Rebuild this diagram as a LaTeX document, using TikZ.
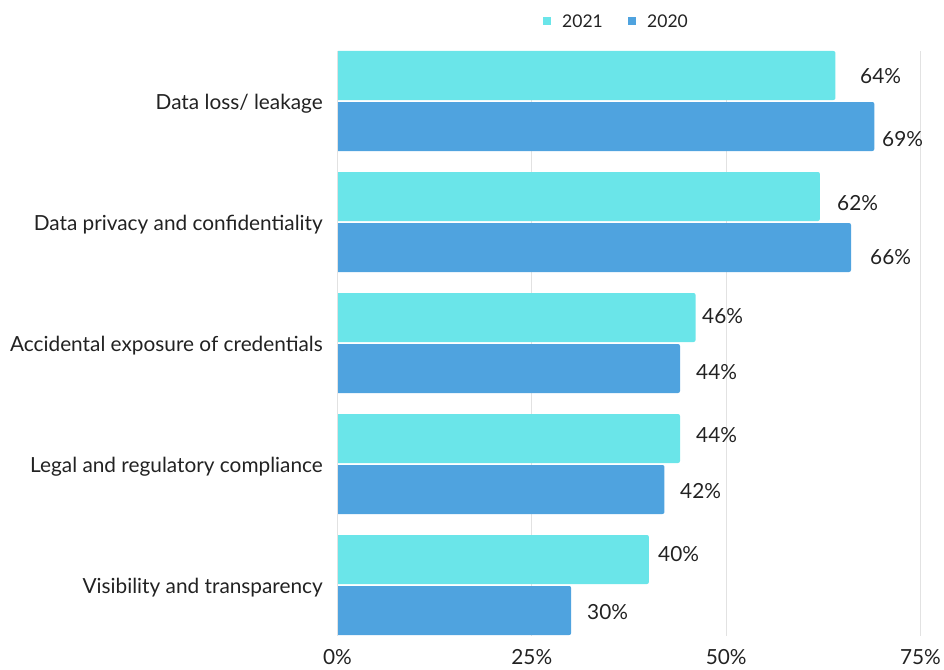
\documentclass[tikz,border=0pt]{standalone}
\usepackage{fontspec}
\setmainfont{Lato}
\definecolor{bartwentyone}{HTML}{6AE5E9}
\definecolor{bartwenty}{HTML}{4FA3DF}
\definecolor{gridgray}{HTML}{E2E2E2}
\definecolor{txtgray}{HTML}{222222}
\tikzset{
    lbl/.style={font=\fontsize{20.8}{24}\selectfont, text=txtgray, inner sep=0pt},
    catlbl/.style={lbl, anchor=base east},
    vallbl/.style={lbl, anchor=base west},
    axlbl/.style={lbl, anchor=base},
    keylbl/.style={lbl, font=\fontsize{17.5}{20}\selectfont, anchor=base west},
    gridln/.style={draw=gridgray, line width=1.2pt},
    keybox/.style={inner sep=0pt, minimum size=8pt},
}
\begin{document}
\begin{tikzpicture}[x=1pt,y=-1pt]
    \useasboundingbox (0,0) rectangle (944,669);
    % grid lines and axis labels
    \foreach \p in {0,25,50,75}
    {
        \pgfmathsetmacro{\gx}{337.5+7.773*\p}
        \coordinate (g\p t) at (\gx,51);
        \coordinate (g\p b) at (\gx,636);
        \draw[gridln] (g\p t) -- (g\p b);
        \node[axlbl] (ax\p) at (\gx,664) {\p\%};
    }
    % bars
    \foreach \i/\cat/\a/\b/\ax/\ay/\bx/\by in {
        1/{Data loss/ leakage}/64/69/860/76/882/139,
        2/{Data privacy and confidentiality}/62/66/837/203/870/257,
        3/{Accidental exposure of credentials}/46/44/702/316/696/372,
        4/{Legal and regulatory compliance}/44/42/696/435/680/491,
        5/{Visibility and transparency}/40/30/658/554/587/612}
    {
        \pgfmathsetmacro{\ty}{51+121*(\i-1)}
        \pgfmathsetmacro{\ea}{338+7.773*\a}
        \pgfmathsetmacro{\eb}{338+7.773*\b}
        \fill[bartwentyone] (338,\ty) [rounded corners=2pt] -- (\ea,\ty) -- (\ea,\ty+49) [sharp corners] -- (338,\ty+49) -- cycle;
        \fill[bartwenty] (338,\ty+51) [rounded corners=2pt] -- (\eb,\ty+51) -- (\eb,\ty+100) [sharp corners] -- (338,\ty+100) -- cycle;
        \node[catlbl] (cat\i) at (323,\ty+58) {\cat};
        \node[vallbl] (va\i) at (\ax,\ay+7.5) {\a\%};
        \node[vallbl] (vb\i) at (\bx,\by+7.5) {\b\%};
    }
    % legend
    \node[keybox, fill=bartwentyone] (k21) at (547,21) {};
    \node[keylbl] (t21) at (562,27.5) {2021};
    \node[keybox, fill=bartwenty] (k20) at (632,21) {};
    \node[keylbl] (t20) at (647,27.5) {2020};
\end{tikzpicture}
\end{document}
